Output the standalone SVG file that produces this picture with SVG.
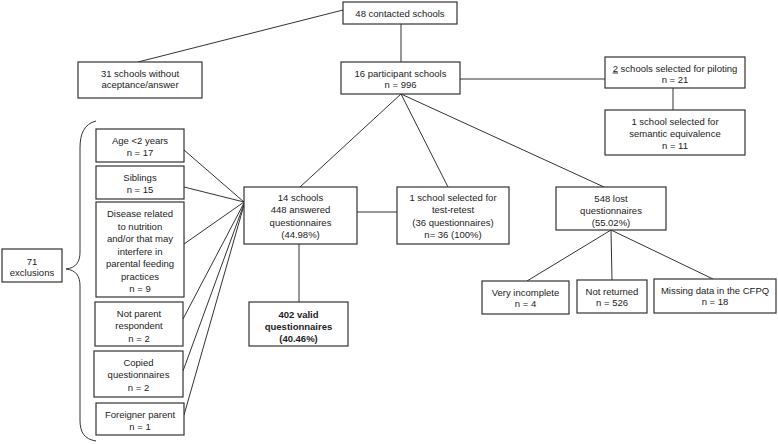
<svg xmlns="http://www.w3.org/2000/svg" width="778" height="444" viewBox="0 0 778 444">
<style>
.b{fill:#fff;stroke:#333;stroke-width:1.2}
.c{fill:none;stroke:#333;stroke-width:1}
text{font-family:"Liberation Sans",Arial,sans-serif;font-size:9.5px;fill:#222;text-anchor:middle}
.bd{font-weight:bold}
</style>
<rect width="778" height="444" fill="#fff"/>
<g id="connectors">
<line class="c" x1="343" y1="10" x2="138" y2="62"/>
<line class="c" x1="401" y1="24" x2="401" y2="62"/>
<line class="c" x1="460" y1="79" x2="605" y2="79"/>
<line class="c" x1="673" y1="88" x2="673" y2="110"/>
<line class="c" x1="401" y1="94" x2="300" y2="187"/>
<line class="c" x1="401" y1="94" x2="448" y2="187"/>
<line class="c" x1="401" y1="94" x2="604" y2="187"/>
<line class="c" x1="357" y1="212" x2="397" y2="212"/>
<line class="c" x1="299" y1="244" x2="299" y2="302"/>
<line class="c" x1="611" y1="230" x2="527" y2="281"/>
<line class="c" x1="611" y1="230" x2="612" y2="280"/>
<line class="c" x1="611" y1="230" x2="713" y2="279"/>
<line class="c" x1="184" y1="150" x2="244" y2="202"/>
<line class="c" x1="184" y1="187" x2="244" y2="202"/>
<line class="c" x1="184" y1="244" x2="244" y2="202"/>
<line class="c" x1="183" y1="319" x2="244" y2="203"/>
<line class="c" x1="183" y1="371" x2="244" y2="204"/>
<line class="c" x1="184" y1="415" x2="244" y2="205"/>
<path class="c" d="M96,121 C84,124 80,134 80,148 L80,252 C80,262 76,268 66,269 C76,270 80,276 80,286 L80,420 C80,432 84,439 96,441"/>
</g>
<g id="n48"><rect class="b" x="343" y="2" width="114" height="22"/><text x="400" y="16.5">48 contacted schools</text></g>
<g id="n31"><rect class="b" x="78" y="62" width="124" height="36"/><text x="140" y="76.5">31 schools without</text><text x="140" y="88">aceptance/answer</text></g>
<g id="n16"><rect class="b" x="341" y="62" width="119" height="32"/><text x="400.5" y="76.5">16 participant schools</text><text x="400.5" y="87.5">n = 996</text></g>
<g id="npilot"><rect class="b" x="605" y="57" width="140" height="31"/><text x="675" y="71.5"><tspan text-decoration="underline">2</tspan> schools selected for piloting</text><text x="675" y="82.5">n = 21</text></g>
<g id="nsem"><rect class="b" x="605" y="110" width="140" height="45"/><text x="675" y="124.5">1 school selected for</text><text x="675" y="137">semantic equivalence</text><text x="675" y="148.5">n = 11</text></g>
<g id="n14"><rect class="b" x="244" y="187" width="113" height="57"/><text x="300.5" y="200.5">14 schools</text><text x="300.5" y="212.5">448 answered</text><text x="300.5" y="225.5">questionnaires</text><text x="300.5" y="237.5">(44.98%)</text></g>
<g id="ntr"><rect class="b" x="397" y="187" width="112" height="57"/><text x="453" y="200.5">1 school selected for</text><text x="453" y="212.5">test-retest</text><text x="453" y="225.5">(36 questionnaires)</text><text x="453" y="237.5">n= 36 (100%)</text></g>
<g id="nlost"><rect class="b" x="556" y="187" width="110" height="43"/><text x="611" y="201.5">548 lost</text><text x="611" y="213.5">questionnaires</text><text x="611" y="226">(55.02%)</text></g>
<g id="nvalid"><rect class="b" x="249" y="302" width="99" height="44"/><text class="bd" x="298.5" y="317.5">402 valid</text><text class="bd" x="298.5" y="329.5">questionnaires</text><text class="bd" x="298.5" y="341.5">(40.46%)</text></g>
<g id="nvery"><rect class="b" x="482" y="281" width="87" height="33"/><text x="525.5" y="295.5">Very incomplete</text><text x="525.5" y="306.5">n = 4</text></g>
<g id="nnot"><rect class="b" x="577" y="280" width="70" height="33"/><text x="612" y="294.5">Not returned</text><text x="612" y="305.5">n = 526</text></g>
<g id="nmiss"><rect class="b" x="654" y="279" width="122" height="34"/><text x="715" y="293.5">Missing data in the CFPQ</text><text x="715" y="304.5">n = 18</text></g>
<g id="nage"><rect class="b" x="96" y="129" width="88" height="33"/><text x="140" y="143.5">Age &lt;2 years</text><text x="140" y="155.5">n = 17</text></g>
<g id="nsib"><rect class="b" x="96" y="166" width="88" height="33"/><text x="140" y="180.5">Siblings</text><text x="140" y="192.5">n = 15</text></g>
<g id="ndis"><rect class="b" x="96" y="202" width="88" height="95"/><text x="140" y="216.5">Disease related</text><text x="140" y="229.5">to nutrition</text><text x="140" y="242">and/or that may</text><text x="140" y="254.5">interfere in</text><text x="140" y="267">parental feeding</text><text x="140" y="279.5">practices</text><text x="140" y="292">n = 9</text></g>
<g id="npar"><rect class="b" x="95" y="302" width="88" height="44"/><text x="139" y="316.5">Not parent</text><text x="139" y="329">respondent</text><text x="139" y="341.5">n = 2</text></g>
<g id="ncop"><rect class="b" x="94" y="351" width="89" height="46"/><text x="138.5" y="365.5">Copied</text><text x="138.5" y="378">questionnaires</text><text x="138.5" y="390.5">n = 2</text></g>
<g id="nfor"><rect class="b" x="96" y="403" width="88" height="32"/><text x="140" y="417.5">Foreigner parent</text><text x="140" y="429.5">n = 1</text></g>
<g id="n71"><rect class="b" x="2" y="249" width="60" height="33"/><text x="32" y="264.5">71</text><text x="32" y="275.5">exclusions</text></g>
</svg>
